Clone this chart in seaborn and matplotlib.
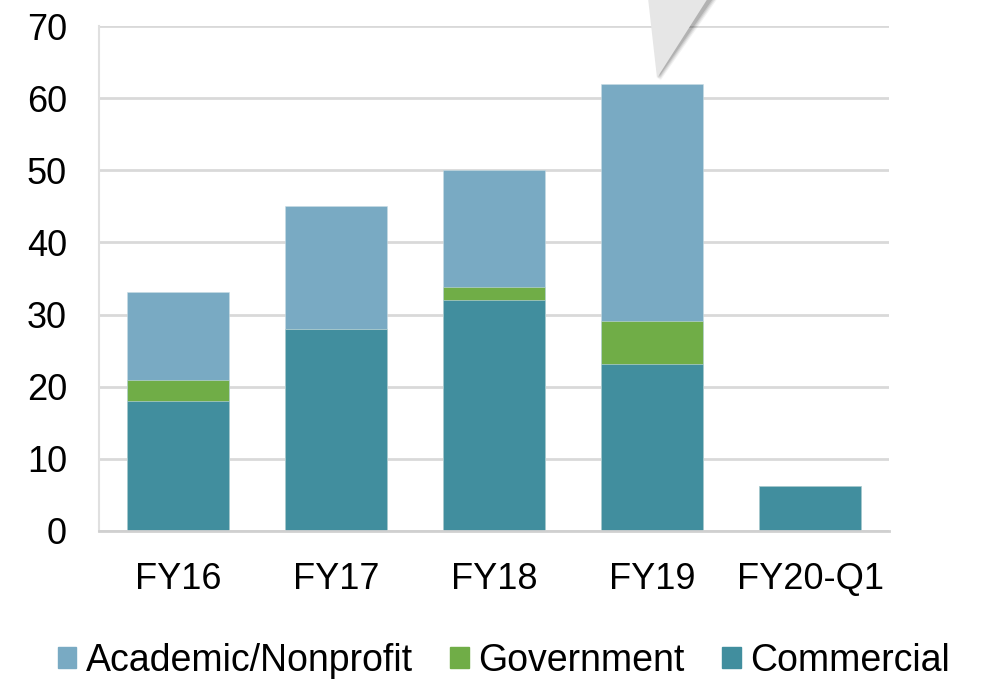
import matplotlib
matplotlib.use("Agg")
import matplotlib.pyplot as plt
import seaborn as sns
from matplotlib.patches import Patch, Polygon

# Data
years = ["FY16", "FY17", "FY18", "FY19", "FY20-Q1"]
commercial = [18.0, 28.0, 32.0, 23.2, 6.2]
government = [3.0, 0.0, 1.8, 5.9, 0.0]
academic = [12.1, 17.0, 16.2, 32.9, 0.0]

C_ACAD = "#79AAC3"
C_GOV = "#70AD47"
C_COMM = "#418E9E"

sns.set_theme(style="white")
plt.rcParams["font.family"] = ["Liberation Sans", "DejaVu Sans"]
plt.rcParams["text.color"] = "#000000"

fig = plt.figure(figsize=(9.81, 6.79), dpi=100)
ax = fig.add_axes([99 / 981, 1 - 531 / 679, (889 - 99) / 981, (531 - 26) / 679])

total = [c + g + a for c, g, a in zip(commercial, government, academic)]
comm_gov = [c + g for c, g in zip(commercial, government)]

# stacked bars: draw cumulative totals from the top layer down
for vals, col in [(total, C_ACAD), (comm_gov, C_GOV), (commercial, C_COMM)]:
    sns.barplot(x=years, y=vals, color=col, saturation=1, width=0.645,
                edgecolor="#C8DCE4", linewidth=0.4, ax=ax)

ax.set_ylim(0, 70)
ax.set_xlim(-0.5, 4.5)
ax.set_yticks(range(0, 71, 10))
ax.yaxis.grid(True, color="#D9D9D9", linewidth=2)
ax.set_axisbelow(True)
for s in ["top", "right"]:
    ax.spines[s].set_visible(False)
ax.spines["left"].set_color("#E0E0E0")
ax.spines["left"].set_linewidth(1.5)
ax.spines["bottom"].set_color("#D0D0D0")
ax.spines["bottom"].set_linewidth(2)
ax.tick_params(axis="both", length=0, labelsize=26, colors="#000000")
ax.tick_params(axis="y", pad=23)
ax.tick_params(axis="x", pad=22)
ax.set_xlabel("")
ax.set_ylabel("")

handles = [Patch(color=C_ACAD, label="Academic/Nonprofit"),
           Patch(color=C_GOV, label="Government"),
           Patch(color=C_COMM, label="Commercial")]
fig.legend(handles=handles, loc="center", bbox_to_anchor=(504 / 981, 1 - 661 / 679),
           ncol=3, frameon=False, fontsize=27, labelcolor="#000000",
           handlelength=0.5, handleheight=0.5,
           handletextpad=0.25, columnspacing=1.0, borderaxespad=0)

# callout pointer at the top
def px(x, y):
    return (x / 981, 1 - y / 679)

for i, a in enumerate([0.05, 0.07, 0.09, 0.12]):
    off = 6 - i * 1.5
    fig.patches.append(Polygon([px(648 + off, -2), px(712 + off, -2), px(657 + off * 0.6, 78 + off * 0.4)],
                               closed=True, transform=fig.transFigure, facecolor="#000000",
                               alpha=a, edgecolor="none"))
fig.patches.append(Polygon([px(648, -2), px(708, -2), px(657, 78)], closed=True,
                           transform=fig.transFigure, facecolor="#E6E6E6", edgecolor="none"))

fig.savefig("out.png", dpi=100)
